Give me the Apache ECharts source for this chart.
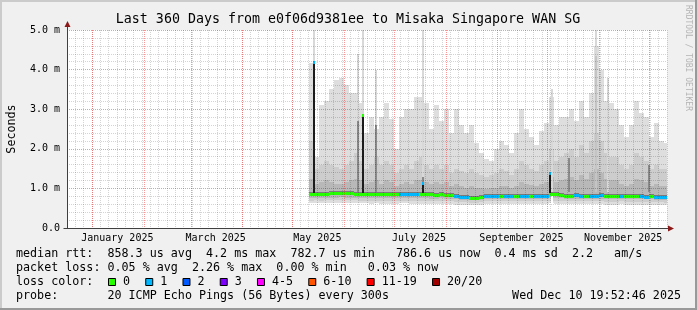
<!DOCTYPE html>
<html><head><meta charset="utf-8">
<script src="https://cdn.jsdelivr.net/npm/echarts@6/dist/echarts.min.js"></script>
<style>html,body{margin:0;padding:0;background:#f0f0f0}#c{width:697px;height:310px}</style>
</head><body><div id="c"></div>
<script>
// ---------------- data ----------------
const titleText = 'Last 360 Days from e0f06d9381ee to Misaka Singapore WAN SG';
const xMin = 0, xMax = 360;           // days from start of window
const yMin = 0, yMax = 5;             // milliseconds
const monthStartDay = [15.2, 46.2, 74.2, 105.2, 135.2, 166.2, 196.2, 227.2, 258.2, 288.2, 319.2, 349.2];
const monthLabelDay = [30.2, 89.2, 150.2, 211.2, 272.7, 333.7];
const monthLabelText = ['January 2025', 'March 2025', 'May 2025', 'July 2025', 'September 2025', 'November 2025'];

const binDay = [145,148,151,154,157,160,163,166,169,172,175,178,181,184,187,190,193,196,199,202,205,208,211,214,217,220,223,226,229,232,235,238,241,244,247,250,253,256,259,262,265,268,271,274,277,280,283,286,289,292,295,298,301,304,307,310,313,316,319,322,325,328,331,334,337,340,343,346,349,352,355,358];

const top1 = [4.17,1.8,3.1,3.2,3.5,3.75,3.8,3.6,3.4,3.4,3.15,
 2.4,2.8,2.5,2.8,3.15,2.75,2.0,2.8,3.0,3.0,3.3,
 3.3,3.15,2.5,3.1,2.7,3.0,2.4,3.0,2.6,2.4,2.6,
 2.15,1.9,1.75,1.7,2.0,2.2,2.1,1.9,2.4,3.0,2.5,
 2.3,2.1,2.45,2.65,3.3,2.6,2.8,2.8,3.0,2.7,3.2,
 2.8,3.4,4.6,4.0,3.2,3.15,3.0,2.6,2.3,2.6,3.2,
 2.9,2.8,2.3,2.65,2.2,2.15];
const top2 = [2.2,1.5,1.6,1.7,1.6,1.55,1.5,1.6,1.7,1.9,1.7,
 1.5,1.6,1.8,1.6,1.7,1.6,1.4,1.5,1.6,1.5,1.7,
 1.8,1.6,1.5,1.6,1.5,1.6,1.4,1.5,1.45,1.4,1.5,
 1.4,1.35,1.3,1.35,1.4,1.5,1.45,1.35,1.5,1.7,1.6,
 1.5,1.45,1.6,1.7,2.0,1.7,1.8,1.9,2.0,1.8,2.1,
 1.9,2.2,2.4,2.2,1.9,1.8,1.8,1.6,1.5,1.6,1.9,
 1.8,1.7,1.5,1.6,1.5,1.5];
const top3 = [1.25,1.1,1.15,1.2,1.15,1.1,1.1,1.15,1.2,1.25,1.2,
 1.1,1.15,1.2,1.1,1.2,1.15,1.05,1.1,1.15,1.1,1.2,
 1.2,1.15,1.1,1.15,1.1,1.15,1.05,1.1,1.05,1.0,1.05,
 1.0,1.0,0.98,1.0,1.02,1.05,1.05,1.0,1.05,1.15,1.1,
 1.08,1.05,1.1,1.15,1.3,1.15,1.2,1.25,1.3,1.2,1.35,
 1.25,1.4,1.5,1.4,1.25,1.2,1.2,1.1,1.05,1.1,1.25,
 1.2,1.15,1.05,1.1,1.05,1.05];
const top4 = [0.92,0.92,0.91,0.92,0.93, 0.93,0.94,0.93,0.93,0.92,0.92, 0.91,0.90,0.91,0.90,0.90,0.90,0.90, 0.91,0.91,0.90,0.91, 0.90,0.90,0.90,0.89,0.90,0.89,0.89, 0.85, 0.83,0.83, 0.82,0.82,0.83, 0.86,0.86,0.87,0.86,0.86,0.87,0.86,0.87,0.87,0.86,0.86,0.87,0.87, 0.91,0.90,0.89, 0.87,0.87,0.88,0.87,0.87,0.87,0.87,0.88, 0.86,0.86,0.86,0.87,0.86,0.86,0.86, 0.85,0.84,0.85,0.84,0.84,0.83];
const bot4 = [0.82,0.83,0.82,0.83,0.84, 0.84,0.85,0.84,0.84,0.83,0.83, 0.82,0.81,0.82,0.81,0.81,0.81,0.81, 0.82,0.82,0.81,0.82, 0.81,0.81,0.81,0.80,0.81,0.80,0.80, 0.76, 0.74,0.74, 0.73,0.73,0.74, 0.77,0.77,0.78,0.77,0.77,0.78,0.77,0.78,0.78,0.77,0.77,0.78,0.78, 0.82,0.81,0.80, 0.78,0.78,0.79,0.78,0.78,0.78,0.78,0.79, 0.77,0.77,0.77,0.78,0.77,0.77,0.77, 0.76,0.75,0.76,0.75,0.75,0.74];
const bot3 = [0.76,0.77,0.76,0.77,0.77, 0.77,0.78,0.77,0.77,0.77,0.76, 0.76,0.75,0.76,0.75,0.75,0.75,0.75, 0.76,0.76,0.75,0.75, 0.75,0.75,0.74,0.74,0.75,0.74,0.74, 0.72, 0.71,0.71, 0.70,0.70,0.71, 0.73,0.73,0.74,0.73,0.73,0.74,0.73,0.74,0.74,0.73,0.73,0.74,0.74, 0.76,0.75,0.75, 0.74,0.74,0.74,0.74,0.74,0.74,0.74,0.74, 0.73,0.73,0.73,0.74,0.73,0.73,0.73, 0.72,0.72,0.72,0.71,0.71,0.71];
const bot2 = [0.69,0.70,0.69,0.70,0.70, 0.70,0.71,0.70,0.70,0.70,0.69, 0.69,0.68,0.69,0.68,0.68,0.68,0.68, 0.69,0.69,0.68,0.68, 0.68,0.68,0.67,0.67,0.68,0.67,0.67, 0.66, 0.65,0.65, 0.64,0.64,0.65, 0.67,0.67,0.67,0.67,0.67,0.67,0.67,0.67,0.67,0.67,0.67,0.67,0.67, 0.69,0.68,0.68, 0.67,0.67,0.67,0.67,0.67,0.67,0.67,0.67, 0.66,0.66,0.66,0.67,0.66,0.66,0.66, 0.65,0.65,0.65,0.65,0.65,0.64];
const bot1 = [0.62,0.63,0.62,0.63,0.63, 0.63,0.64,0.63,0.63,0.63,0.62, 0.62,0.61,0.62,0.61,0.61,0.61,0.61, 0.62,0.62,0.61,0.61, 0.61,0.61,0.60,0.60,0.61,0.60,0.60, 0.59, 0.58,0.58, 0.57,0.57,0.58, 0.60,0.60,0.60,0.60,0.60,0.60,0.60,0.60,0.60,0.60,0.60,0.60,0.60, 0.62,0.61,0.61, 0.60,0.60,0.60,0.60,0.60,0.60,0.60,0.60, 0.59,0.59,0.59,0.60,0.59,0.59,0.59, 0.58,0.58,0.58,0.58,0.58,0.57];
const median = [0.86,0.87,0.86,0.87,0.88, 0.88,0.89,0.88,0.88,0.87,0.87, 0.86,0.85,0.86,0.85,0.85,0.85,0.85, 0.86,0.86,0.85,0.86, 0.85,0.85,0.85,0.84,0.85,0.84,0.84, 0.80, 0.78,0.78, 0.77,0.77,0.78, 0.81,0.81,0.82,0.81,0.81,0.82,0.81,0.82,0.82,0.81,0.81,0.82,0.82, 0.86,0.85,0.84, 0.82,0.82,0.83,0.82,0.82,0.82,0.82,0.83, 0.81,0.81,0.81,0.82,0.81,0.81,0.81, 0.80,0.79,0.80,0.79,0.79,0.78];
const lossIdx = [0,0,0,0,0,0,0,0,0,0,0, 0,0,0,0,0,0,0, 1,1,1,1, 0,0,0,0,0,0,0, 1,1,1, 0,0,0, 1,1,1,0,1,1,0,1,1,0,1,1,1, 0,0,0,0,0, 1,1,0,1,1,1, 0,0,0,1,0,0,0, 1,1,0,1,1,1];

// narrow spikes: day, low, high, kind
const spikeDay  = [147.9, 174.6, 177.6, 185.4, 213.3, 290.7, 317.1, 324.6, 317.1, 174.6, 185.4, 213.3, 301.2, 348.9, 147.9, 177.6, 213.3, 289.8, 290.9];
const spikeLo   = [0.9, 0.9, 0.9, 0.9, 0.9, 0.9, 0.9, 0.9, 0.9, 0.9, 0.9, 0.9, 0.9, 0.9, 0.86, 0.88, 0.86, 0.85, 0.56];
const spikeHi   = [5.0, 4.4, 5.0, 4.0, 5.0, 3.5, 5.0, 3.8, 4.35, 2.7, 2.6, 1.3, 1.77, 1.6, 4.2, 2.85, 1.13, 1.38, 0.8];
const spikeKind = [0,0,0,0,0,0,0,0,1,2,2,2,2,2,3,3,3,3,4];
const dotDay  = [147.9, 177.6, 213.3, 289.8];
const dotVal  = [4.2, 2.85, 1.13, 1.38];
const dotLoss = [1, 0, 1, 1];

const statLines = [
  'median rtt:  858.3 us avg  4.2 ms max  782.7 us min   786.6 us now  0.4 ms sd  2.2   am/s',
  'packet loss: 0.05 % avg  2.26 % max  0.00 % min   0.03 % now'
];
const lossLabel = ['0', '1', '2', '3', '4-5', '6-10', '11-19', '20/20'];
const probeText = 'probe:       20 ICMP Echo Pings (56 Bytes) every 300s';
const dateText = 'Wed Dec 10 19:52:46 2025';

// ---------------- styles ----------------
const lossFill = ['#26ff00', '#00b8ff', '#0059ff', '#7e00ff', '#ff00ff', '#ff5500', '#ff0000', '#a10000'];
const smokeFill = ['#dedede', '#cdcdcd', '#b8b8b8', '#7a7a7a'];
const spikeStyle = [
  {fill: '#d8d8d8', w: 2}, {fill: '#c4c4c4', w: 2}, {fill: '#8a8a8a', w: 2},
  {fill: '#1c1c1c', w: 2}, {fill: '#ffffff', w: 2}
];
const MONO = '"DejaVu Sans Mono", monospace';

const smokeData = binDay.map((d, i) => [d, i < binDay.length - 1 ? binDay[i + 1] : xMax,
  bot1[i], top1[i], bot2[i], top2[i], bot3[i], top3[i], bot4[i], top4[i], median[i], lossIdx[i]]);

const chart = echarts.init(document.getElementById('c'), null, {renderer: 'canvas', width: 697, height: 310});

function px(api, x, y) { return api.coord([x, y]); }

const option = {
  backgroundColor: '#f0f0f0',
  animation: false,
  grid: {left: 67, top: 30, width: 600, height: 198, show: true, backgroundColor: '#ffffff', borderWidth: 0,
         containLabel: false, outerBoundsMode: 'none'},
  xAxis: {
    type: 'value', min: xMin, max: xMax, interval: 5, z: 10,
    axisLine: {show: true, lineStyle: {color: '#404040', width: 1}},
    axisTick: {show: false},
    axisLabel: {
      customValues: monthLabelDay, margin: 5,
      formatter: v => monthLabelText[monthLabelDay.indexOf(v)] || '',
      fontFamily: 'DejaVu Sans Mono', fontSize: 10, color: '#000'
    },
    splitLine: {show: true, lineStyle: {color: 'rgba(0,0,0,0.17)', width: 1, type: [1, 1]}}
  },
  yAxis: {
    type: 'value', min: yMin, max: yMax, interval: 1, z: 10,
    name: 'Seconds', nameLocation: 'middle', nameGap: 49, nameRotate: 90,
    nameTextStyle: {fontFamily: 'DejaVu Sans Mono', fontSize: 11.7, color: '#000'},
    axisLine: {show: true, lineStyle: {color: '#404040', width: 1}},
    axisTick: {show: false},
    minorTick: {show: false, splitNumber: 5},
    axisLabel: {
      margin: 7, fontFamily: 'DejaVu Sans Mono', fontSize: 10, color: '#000',
      formatter: v => v === 0 ? '0.0' : v.toFixed(1) + ' m'
    },
    splitLine: {show: true, lineStyle: {color: 'rgba(255,0,0,0.42)', width: 1, type: [1, 1]}},
    minorSplitLine: {show: true, lineStyle: {color: 'rgba(0,0,0,0.17)', width: 1, type: [1, 1]}}
  },
  series: [
    {
      type: 'custom', name: 'smoke', z: 1, silent: true, data: smokeData,
      renderItem: (params, api) => {
        const x0 = Math.round(px(api, api.value(0), 0)[0]);
        const x1 = Math.round(px(api, api.value(1), 0)[0]);
        const ch = [];
        for (let k = 0; k < 4; k++) {
          const yh = Math.round(px(api, 0, api.value(3 + 2 * k))[1]);
          const yl = Math.round(px(api, 0, api.value(2 + 2 * k))[1]);
          ch.push({type: 'rect', shape: {x: x0, y: yh, width: x1 - x0, height: yl - yh}, style: {fill: smokeFill[k]}});
        }
        return {type: 'group', children: ch};
      }
    },
    {
      type: 'custom', name: 'spikes', z: 2, silent: true,
      data: spikeDay.map((d, i) => [d, spikeLo[i], spikeHi[i], spikeKind[i]]),
      renderItem: (params, api) => {
        const s = spikeStyle[api.value(3)];
        const x = Math.round(px(api, api.value(0), 0)[0] - s.w / 2);
        const yh = Math.round(px(api, 0, api.value(2))[1]);
        const yl = Math.round(px(api, 0, api.value(1))[1]);
        return {type: 'rect', shape: {x: x, y: yh, width: s.w, height: yl - yh}, style: {fill: s.fill}};
      }
    },
    {
      type: 'custom', name: 'median', z: 3, silent: true, data: smokeData,
      renderItem: (params, api) => {
        const x0 = Math.round(px(api, api.value(0), 0)[0]);
        const x1 = Math.round(px(api, api.value(1), 0)[0]);
        const y = Math.round(px(api, 0, api.value(10))[1]);
        return {type: 'rect', shape: {x: x0, y: y - 1, width: x1 - x0, height: 3}, style: {fill: lossFill[api.value(11)]}};
      }
    },
    {
      type: 'custom', name: 'dots', z: 4, silent: true,
      data: dotDay.map((d, i) => [d, dotVal[i], dotLoss[i]]),
      renderItem: (params, api) => {
        const p = px(api, api.value(0), api.value(1));
        return {type: 'rect', shape: {x: Math.round(p[0] - 1), y: Math.round(p[1] - 1), width: 2, height: 3}, style: {fill: lossFill[api.value(2)]}};
      }
    },
    {
      type: 'custom', name: 'monthGrid', z: 11, silent: true,
      data: monthStartDay.map(d => [d, 0]),
      renderItem: (params, api) => {
        const x = Math.round(px(api, api.value(0), 0)[0]) + 0.5;
        const cs = params.coordSys;
        return {type: 'line', shape: {x1: x, y1: cs.y, x2: x, y2: cs.y + cs.height},
          style: {stroke: 'rgba(255,0,0,0.42)', lineWidth: 1, lineDash: [1, 1]}};
      }
    }
  ],
  graphic: []
};
chart.setOption(option);

// decorations and texts
const pTop = chart.convertToPixel({gridIndex: 0}, [xMin, yMax]);
const pRight = chart.convertToPixel({gridIndex: 0}, [xMax, yMin]);
const ax = Math.round(pTop[0]) + 0.5, ay = Math.round(pRight[1]) + 0.5;
const g = [];
// frame
g.push({type: 'rect', shape: {x: 0, y: 0, width: 697, height: 2}, style: {fill: '#cbcbcb'}, z: 100});
g.push({type: 'rect', shape: {x: 0, y: 0, width: 2, height: 310}, style: {fill: '#cbcbcb'}, z: 100});
g.push({type: 'rect', shape: {x: 0, y: 308, width: 697, height: 2}, style: {fill: '#999999'}, z: 100});
g.push({type: 'rect', shape: {x: 695, y: 0, width: 2, height: 310}, style: {fill: '#999999'}, z: 100});
// axis extensions and arrows
g.push({type: 'line', shape: {x1: ax, y1: pTop[1], x2: ax, y2: pTop[1] - 4}, style: {stroke: '#404040', lineWidth: 1}, z: 100});
g.push({type: 'line', shape: {x1: pRight[0], y1: ay, x2: pRight[0] + 2, y2: ay}, style: {stroke: '#404040', lineWidth: 1}, z: 100});
g.push({type: 'line', shape: {x1: ax - 4, y1: ay, x2: ax, y2: ay}, style: {stroke: '#404040', lineWidth: 1}, z: 100});
g.push({type: 'polygon', shape: {points: [[ax, pTop[1] - 9], [ax - 3, pTop[1] - 3], [ax + 3, pTop[1] - 3]]}, style: {fill: '#8b1a1a'}, z: 100});
g.push({type: 'polygon', shape: {points: [[pRight[0] + 7, ay], [pRight[0] + 1, ay - 3], [pRight[0] + 1, ay + 3]]}, style: {fill: '#8b1a1a'}, z: 100});
// title
g.push({type: 'text', x: 348, y: 20, style: {text: titleText, font: '13.3px ' + MONO, fill: '#000', textAlign: 'center', textVerticalAlign: 'middle'}, z: 100});
// watermark
g.push({type: 'text', x: 688, y: 5, rotation: -Math.PI / 2, style: {text: 'RRDTOOL / TOBI OETIKER', font: '8px ' + MONO, fill: '#b4b4b4', textAlign: 'left', textVerticalAlign: 'middle'}, z: 100});
// legend lines
const legendFont = '11.7px ' + MONO;
statLines.forEach((t, i) => g.push({type: 'text', x: 16, y: 254 + 14 * i, style: {text: t, font: legendFont, fill: '#000', textAlign: 'left', textVerticalAlign: 'middle'}, z: 100}));
g.push({type: 'text', x: 16, y: 282, style: {text: 'loss color:', font: legendFont, fill: '#000', textAlign: 'left', textVerticalAlign: 'middle'}, z: 100});
let lx = 108;
lossLabel.forEach((lab, i) => {
  g.push({type: 'rect', shape: {x: lx + 0.5, y: 278.5, width: 7, height: 7}, style: {fill: lossFill[i], stroke: '#000', lineWidth: 1}, z: 100});
  g.push({type: 'text', x: lx + 15, y: 282, style: {text: lab, font: legendFont, fill: '#000', textAlign: 'left', textVerticalAlign: 'middle'}, z: 100});
  lx = lx + 15 + lab.length * 7.04 + 15.2;
});
g.push({type: 'text', x: 16, y: 296, style: {text: probeText, font: legendFont, fill: '#000', textAlign: 'left', textVerticalAlign: 'middle'}, z: 100});
g.push({type: 'text', x: 681, y: 296, style: {text: dateText, font: legendFont, fill: '#000', textAlign: 'right', textVerticalAlign: 'middle'}, z: 100});
chart.setOption({graphic: g});
</script>
</body></html>
